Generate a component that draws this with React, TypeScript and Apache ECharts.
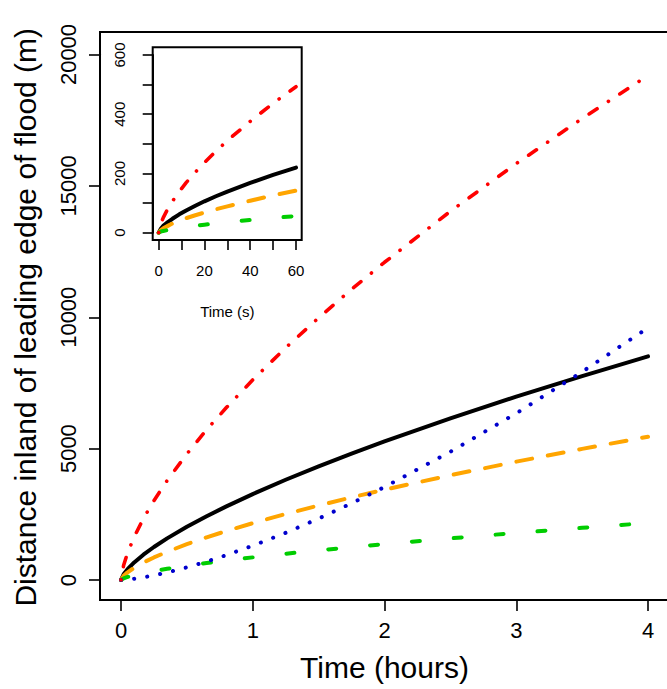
import React, { useEffect, useRef } from "react";
import * as echarts from "echarts";

// Main panel: time in hours, distance inland (m)
const hours = [0, 0.02, 0.05, 0.1, 0.17, 0.25, 0.35, 0.5, 0.65, 0.8, 1, 1.25, 1.5, 1.75, 2, 2.5, 3, 3.5, 4];
const redMain = [0, 561, 1033, 1640, 2339, 3020, 3784, 4798, 5720, 6563, 7617, 8840, 9980, 11065, 12092, 14033, 15848, 17564, 19200];
const blackMain = [0, 220, 414, 668, 963, 1256, 1585, 2027, 2429, 2803, 3270, 3814, 4326, 4811, 5275, 6153, 6978, 7761, 8510];
const orangeMain = [0, 159, 294, 466, 664, 858, 1075, 1363, 1625, 1865, 2164, 2512, 2835, 3144, 3436, 3987, 4503, 4990, 5455];
const greenMain = [0, 63, 117, 185, 264, 341, 428, 542, 646, 742, 861, 999, 1128, 1251, 1367, 1586, 1791, 1985, 2170];
const blueMain = [0, 1, 17, 47, 102, 177, 288, 481, 700, 948, 1306, 1795, 2337, 2920, 3539, 4880, 6344, 7921, 9600];

// Inset panel: time in seconds
const seconds = [0, 1, 2, 4, 6, 9, 12, 16, 20, 25, 30, 40, 50, 60];
const redInset = [0, 32, 51, 81, 106, 139, 169, 204, 237, 275, 311, 376, 437, 493];
const blackInset = [0, 14, 23, 36, 47, 62, 75, 91, 106, 123, 139, 168, 195, 220];
const orangeInset = [0, 9, 15, 23, 31, 40, 49, 59, 68, 79, 89, 108, 126, 142];
const greenInset = [0, 4, 6, 9, 12, 16, 19, 23, 27, 31, 35, 43, 50, 56];

const mainTicksX = [0, 1, 2, 3, 4];
const mainTicksY = [0, 5000, 10000, 15000, 20000];

const FONT = "'Liberation Sans', Arial, Helvetica, sans-serif";

const pairs = (xs: number[], ys: number[]) => xs.map((x, i) => [x, ys[i]]);

const STYLES = {
  red: { color: "#FF0000", width: 3.6, type: [0.1, 13.5, 9.5, 13.5] },
  black: { color: "#000000", width: 4, type: "solid" },
  orange: { color: "#FFA500", width: 4, type: [16, 16] },
  green: { color: "#00CD00", width: 4, type: [8, 34] },
  blue: { color: "#0000CD", width: 4, type: [0.1, 13.1] },
};

function line(name: string, data: number[][], st: any, axis: number) {
  return {
    name,
    type: "line",
    xAxisIndex: axis,
    yAxisIndex: axis,
    data,
    showSymbol: false,
    symbol: "none",
    silent: true,
    smooth: false,
    lineStyle: { color: st.color, width: st.width, type: st.type, cap: "round", join: "round" },
  };
}

export default function App() {
  const ref = useRef<HTMLDivElement>(null);
  useEffect(() => {
    document.body.style.margin = "0";
    if (!ref.current) return;
    const chart = echarts.init(ref.current, undefined, { renderer: "svg" });
    const axisCommon = {
      type: "value",
      splitLine: { show: false },
      axisLine: { show: true, onZero: false, lineStyle: { color: "#000", width: 2 } },
      axisTick: { show: true, inside: false, lineStyle: { color: "#000", width: 1.6 } },
    };
    chart.setOption({
      animation: false,
      backgroundColor: "#fff",
      textStyle: { fontFamily: FONT },
      grid: [
        { left: 121, top: 54.5, width: 527, height: 525.5 },
        { left: 158.7, top: 55, width: 137.3, height: 177.7 },
      ],
      xAxis: [
        {
          ...axisCommon,
          gridIndex: 0,
          min: mainTicksX[0],
          max: mainTicksX[mainTicksX.length - 1],
          interval: 1,
          offset: 20,
          axisTick: { ...axisCommon.axisTick, length: 11 },
          axisLabel: { fontSize: 22, color: "#000", margin: 19, fontFamily: FONT },
          name: "Time (hours)",
          nameLocation: "middle",
          nameGap: 52,
          nameTextStyle: { fontSize: 30, color: "#000", fontFamily: FONT },
        },
        {
          ...axisCommon,
          gridIndex: 1,
          min: 0,
          max: 60,
          interval: 10,
          offset: 7.3,
          axisTick: { ...axisCommon.axisTick, length: 10 },
          axisLabel: {
            fontSize: 15,
            color: "#000",
            margin: 23,
            fontFamily: FONT,
            formatter: (v: number) => (v % 20 === 0 ? String(v) : ""),
          },
          name: "Time (s)",
          nameLocation: "middle",
          nameGap: 64,
          nameTextStyle: { fontSize: 15, color: "#000", fontFamily: FONT },
        },
      ],
      yAxis: [
        {
          ...axisCommon,
          gridIndex: 0,
          min: mainTicksY[0],
          max: mainTicksY[mainTicksY.length - 1],
          interval: 5000,
          offset: 21,
          axisTick: { ...axisCommon.axisTick, length: 11 },
          axisLabel: {
            fontSize: 22,
            color: "#000",
            margin: 21,
            rotate: 90,
            fontFamily: FONT,
            formatter: (v: number) => String(v),
          },
          name: "Distance inland of leading edge of flood (m)",
          nameLocation: "middle",
          nameGap: 60,
          nameTextStyle: { fontSize: 30, color: "#000", fontFamily: FONT },
        },
        {
          ...axisCommon,
          gridIndex: 1,
          min: 0,
          max: 600,
          interval: 100,
          offset: 6,
          axisTick: { ...axisCommon.axisTick, length: 10 },
          axisLabel: {
            fontSize: 15,
            color: "#000",
            margin: 26,
            rotate: 90,
            fontFamily: FONT,
            formatter: (v: number) => (v % 200 === 0 ? String(v) : ""),
          },
        },
      ],
      graphic: [
        {
          type: "rect",
          z: 100,
          silent: true,
          shape: { x: 100, y: 32, width: 569, height: 568 },
          style: { fill: "none", stroke: "#000", lineWidth: 2 },
        },
        {
          type: "rect",
          z: 100,
          silent: true,
          shape: { x: 152.7, y: 47.3, width: 149, height: 192.7 },
          style: { fill: "none", stroke: "#000", lineWidth: 2 },
        },
      ],
      series: [
        line("black", pairs(hours, blackMain), STYLES.black, 0),
        line("orange", pairs(hours, orangeMain), STYLES.orange, 0),
        line("green", pairs(hours, greenMain), STYLES.green, 0),
        line("blue", pairs(hours, blueMain), STYLES.blue, 0),
        line("red", pairs(hours, redMain), STYLES.red, 0),
        line("black-inset", pairs(seconds, blackInset), STYLES.black, 1),
        line("orange-inset", pairs(seconds, orangeInset), STYLES.orange, 1),
        line("green-inset", pairs(seconds, greenInset), STYLES.green, 1),
        line("red-inset", pairs(seconds, redInset), STYLES.red, 1),
      ],
    });
    return () => chart.dispose();
  }, []);
  return <div ref={ref} style={{ width: 667, height: 689 }} />;
}
